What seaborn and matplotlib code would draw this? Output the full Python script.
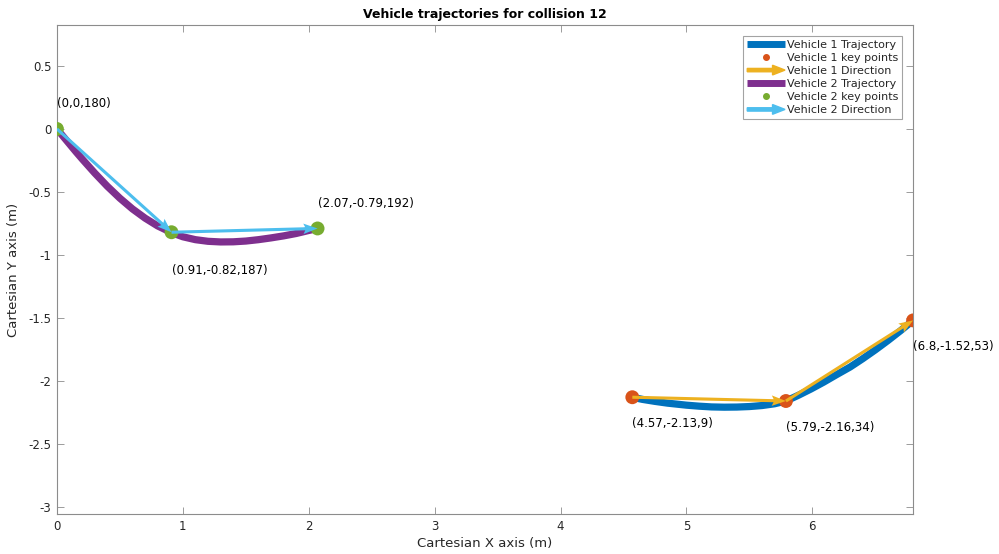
import numpy as np
import pandas as pd
import matplotlib
matplotlib.use("Agg")
import matplotlib.pyplot as plt
import matplotlib.patches as mpatches
from matplotlib.lines import Line2D
from matplotlib.legend_handler import HandlerPatch
import seaborn as sns

# ---- data ----
v1_key_x = [4.57, 5.79, 6.8]
v1_key_y = [-2.13, -2.16, -1.52]
v1_heading = [9, 34, 53]
v1_traj_x = [4.57, 4.65, 4.75, 4.85, 5.00, 5.10, 5.20, 5.30, 5.40, 5.50, 5.60, 5.70, 5.79,
             5.89, 5.99, 6.09, 6.19, 6.30, 6.40, 6.50, 6.60, 6.70, 6.80]
v1_traj_y = [-2.130, -2.147, -2.163, -2.177, -2.193, -2.201, -2.207, -2.209, -2.208, -2.204,
             -2.196, -2.182, -2.160, -2.114, -2.064, -2.010, -1.952, -1.890, -1.824, -1.754,
             -1.680, -1.602, -1.520]

v2_key_x = [0.0, 0.91, 2.07]
v2_key_y = [0.0, -0.82, -0.79]
v2_heading = [180, 187, 192]
v2_traj_x = [0.00, 0.05, 0.10, 0.15, 0.20, 0.30, 0.40, 0.50, 0.60, 0.70, 0.80, 0.91,
             1.00, 1.10, 1.20, 1.30, 1.40, 1.50, 1.60, 1.70, 1.80, 1.90, 2.00, 2.07]
v2_traj_y = [0.000, -0.060, -0.120, -0.180, -0.238, -0.350, -0.455, -0.550, -0.635, -0.708,
             -0.770, -0.823, -0.856, -0.879, -0.892, -0.897, -0.896, -0.890, -0.879, -0.865,
             -0.849, -0.830, -0.806, -0.790]

key_labels_v1 = ["(4.57,-2.13,9)", "(5.79,-2.16,34)", "(6.8,-1.52,53)"]
key_labels_v2 = ["(0,0,180)", "(0.91,-0.82,187)", "(2.07,-0.79,192)"]

x_ticks = [0, 1, 2, 3, 4, 5, 6]
y_ticks = [-3, -2.5, -2, -1.5, -1, -0.5, 0, 0.5]

# ---- style ----
C_V1 = "#0072BD"
C_V1P = "#D95319"
C_V1A = "#EDB120"
C_V2 = "#7E2F8E"
C_V2P = "#77AC30"
C_V2A = "#4DBEEE"

sns.set_theme(style="white")
plt.rcParams["font.family"] = ["DejaVu Sans"]
plt.rcParams["axes.unicode_minus"] = False

fig = plt.figure(figsize=(9.99, 5.54), dpi=100)
ax = fig.add_axes([0.057, 0.072, 0.857, 0.883])

def draw_vehicle(tx, ty, kx, ky, ctraj, cpts, carrow):
    sns.lineplot(x=tx, y=ty, ax=ax, sort=False, estimator=None, color=ctraj,
                 linewidth=5.2, zorder=2, solid_capstyle="butt", solid_joinstyle="round")
    sns.scatterplot(x=kx, y=ky, ax=ax, color=cpts, s=100, edgecolor="none", zorder=3)
    kx = np.asarray(kx); ky = np.asarray(ky)
    ax.quiver(kx[:-1], ky[:-1], np.diff(kx), np.diff(ky), angles="xy",
              scale_units="xy", scale=1, color=carrow, width=0.0036,
              headwidth=3.4, headlength=4.6, headaxislength=4.0, zorder=4)

draw_vehicle(v1_traj_x, v1_traj_y, v1_key_x, v1_key_y, C_V1, C_V1P, C_V1A)
draw_vehicle(v2_traj_x, v2_traj_y, v2_key_x, v2_key_y, C_V2, C_V2P, C_V2A)

# labels
v1_off = [-0.21, -0.21, -0.21]
v2_off = [0.2, -0.30, 0.195]
for x, y, t, o in zip(v1_key_x, v1_key_y, key_labels_v1, v1_off):
    ax.text(x, y + o, t, fontsize=8.5, ha="left", va="center", color="black")
for x, y, t, o in zip(v2_key_x, v2_key_y, key_labels_v2, v2_off):
    ax.text(x, y + o, t, fontsize=8.5, ha="left", va="center", color="black")

ax.set_xlim(0, 6.8)
ax.set_ylim(-3.058, 0.826)
ax.set_xticks(x_ticks)
ax.set_xticklabels([f"{v:g}" for v in x_ticks])
ax.set_yticks(y_ticks)
ax.set_yticklabels([f"{v:g}" for v in y_ticks])
ax.tick_params(direction="in", length=5, width=0.6, colors="#8c8c8c",
               labelcolor="#262626", labelsize=8.5, top=True, right=True,
               left=True, bottom=True, pad=4)
for s in ax.spines.values():
    s.set_color("#8c8c8c")
    s.set_linewidth(0.8)
ax.set_xlabel("Cartesian X axis (m)", fontsize=9.5, color="#262626", labelpad=3)
ax.set_ylabel("Cartesian Y axis (m)", fontsize=9.5, color="#262626", labelpad=6)
ax.set_title("Vehicle trajectories for collision 12", fontsize=9, fontweight="bold",
             color="black", pad=5)

# legend
def make_arrow(legend, orig_handle, xdescent, ydescent, width, height, fontsize):
    return mpatches.FancyArrow(-xdescent, height / 2 - ydescent, width, 0,
                               width=2.4, head_width=7, head_length=9,
                               length_includes_head=True,
                               color=orig_handle.get_facecolor())

a1 = mpatches.FancyArrow(0, 0, 1, 0, color=C_V1A)
a2 = mpatches.FancyArrow(0, 0, 1, 0, color=C_V2A)
handles = [
    Line2D([], [], color=C_V1, lw=5, solid_capstyle="butt"),
    Line2D([], [], color=C_V1P, marker="o", ls="none", markersize=4),
    a1,
    Line2D([], [], color=C_V2, lw=5, solid_capstyle="butt"),
    Line2D([], [], color=C_V2P, marker="o", ls="none", markersize=4),
    a2,
]
labels = ["Vehicle 1 Trajectory", "Vehicle 1 key points", "Vehicle 1 Direction",
          "Vehicle 2 Trajectory", "Vehicle 2 key points", "Vehicle 2 Direction"]
leg = ax.legend(handles, labels, loc="upper right", fontsize=8, frameon=True,
                fancybox=False, edgecolor="#8c8c8c", handlelength=3.4,
                handletextpad=0.15, labelspacing=0.28, borderpad=0.35,
                bbox_to_anchor=(0.9935, 0.989),
                handler_map={mpatches.FancyArrow: HandlerPatch(patch_func=make_arrow)})
leg.get_frame().set_linewidth(0.8)

fig.savefig("out.png", dpi=100)
